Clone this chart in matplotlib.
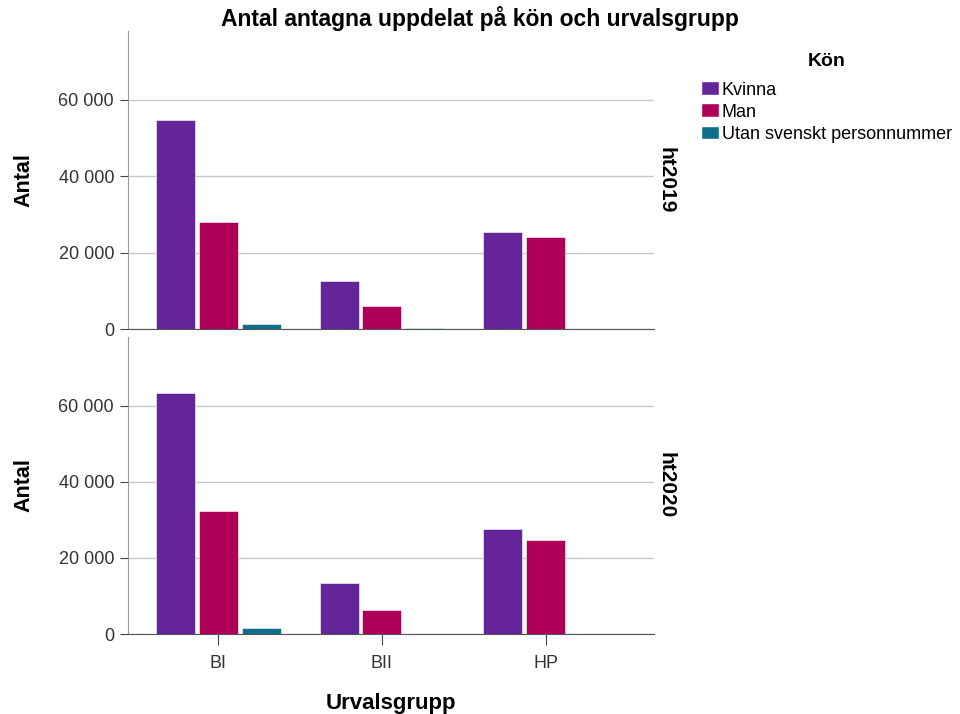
import matplotlib
matplotlib.use("Agg")
from matplotlib import pyplot as plt
from matplotlib.patches import Patch
from matplotlib.ticker import FuncFormatter
import numpy as np

plt.rcParams['font.family'] = ['Liberation Sans', 'DejaVu Sans']

groups = ['BI', 'BII', 'HP']
panels = ['ht2019', 'ht2020']
genders = ['Kvinna', 'Man', 'Utan svenskt personnummer']
colors = ['#65259A', '#AE0058', '#0E6E8C']

kvinna_2019 = [54780, 12580, 25500]
man_2019 = [28130, 6030, 24200]
utan_2019 = [1310, 150, 100]

kvinna_2020 = [63200, 13300, 27500]
man_2020 = [32200, 6190, 24650]
utan_2020 = [1490, 50, 100]

data = {
    'ht2019': [kvinna_2019, man_2019, utan_2019],
    'ht2020': [kvinna_2020, man_2020, utan_2020],
}


def fmt(v, pos):
    return f'{int(v):,}'.replace(',', ' ')


fig = plt.figure(figsize=(9.6, 7.14), dpi=100)
ax_top = fig.add_axes([0.1333, 0.5392, 0.548, 0.4175])
ax_bot = fig.add_axes([0.1333, 0.1120, 0.548, 0.4160])

x = np.arange(len(groups))
width = 0.238
offsets = [-0.262, 0.0, 0.262]

for ax, panel in zip([ax_top, ax_bot], panels):
    for vals, off, col in zip(data[panel], offsets, colors):
        ax.bar(x + off, vals, width, color=col, edgecolor='white', linewidth=0.4, zorder=3)
    ax.set_xlim(-0.55, 2.66)
    ax.set_ylim(0, 78000)
    ax.set_yticks([0, 20000, 40000, 60000])
    ax.yaxis.set_major_formatter(FuncFormatter(fmt))
    ax.grid(axis='y', color='#c8c8c8', linewidth=1, zorder=0)
    for s in ['top', 'right']:
        ax.spines[s].set_visible(False)
    ax.spines['left'].set_color('#999999')
    ax.spines['bottom'].set_color('#555555')
    ax.tick_params(axis='y', length=6, color='#444444', labelsize=13,
                   labelcolor='#333333', pad=4)
    ax.set_ylabel('Antal', fontsize=15.5, fontweight='bold')
    ax.yaxis.set_label_coords(-0.177, 0.5)
    ax.text(1.022, 0.5, panel, transform=ax.transAxes, rotation=270,
            ha='center', va='center', fontsize=15, fontweight='bold')

ax_top.set_xticks([])
ax_bot.set_xticks(x)
ax_bot.set_xticklabels(groups)
ax_bot.tick_params(axis='x', length=8, color='#444444', labelsize=13,
                   labelcolor='#333333', pad=7)
ax_bot.set_xlabel('Urvalsgrupp', fontsize=16, fontweight='bold', labelpad=15)

fig.text(0.5, 0.974, 'Antal antagna uppdelat på kön och urvalsgrupp',
         ha='center', va='center', fontsize=16.5, fontweight='bold')

handles = [Patch(facecolor=c, edgecolor='white') for c in colors]
leg = fig.legend(handles, genders, loc='upper left',
                 bbox_to_anchor=(0.7206, 0.938), frameon=False,
                 fontsize=13, handlelength=1.0, handleheight=0.8,
                 handletextpad=0.15, labelspacing=0.27, borderpad=0,
                 title='Kön', title_fontproperties={'weight': 'bold', 'size': 14})
leg._legend_box.sep = 8

fig.savefig('out.png', dpi=100)
